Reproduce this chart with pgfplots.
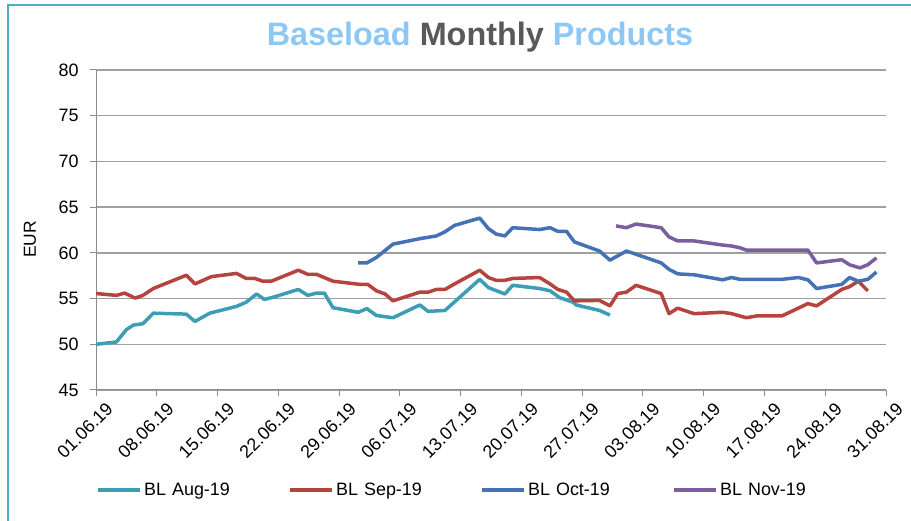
\documentclass[border=0pt]{standalone}
\usepackage{pgfplots}
\pgfplotsset{compat=1.18}
\usepackage{fontspec}
\setmainfont{Liberation Sans}
\definecolor{cAug}{HTML}{3C9DB5}
\definecolor{cSep}{HTML}{B5433E}
\definecolor{cOct}{HTML}{4472B4}
\definecolor{cNov}{HTML}{7B5EA0}
\definecolor{tblue}{HTML}{8DC8F5}
\definecolor{tgrey}{HTML}{595959}
\definecolor{frame}{HTML}{4BACC6}
\definecolor{axgray}{HTML}{8C8C8C}
\definecolor{gridgray}{HTML}{A0A0A0}
\begin{document}
\begin{tikzpicture}[x=1bp,y=1bp]
\path[use as bounding box] (0,0) rectangle (911,521);
\draw[color=frame, line width=1.5bp] (8,0) -- (8,516) -- (911,516);
\node[font=\fontsize{32.5}{36}\selectfont\bfseries] at (480,484) {\textcolor{tblue}{Baseload} \textcolor{tgrey}{Monthly} \textcolor{tblue}{Products}};
\begin{axis}[
  at={(96bp,131bp)}, anchor=south west,
  width=790bp, height=320bp, scale only axis,
  xmin=0, xmax=91, ymin=45, ymax=80,
  axis x line*=bottom, axis y line*=left,
  axis line style={color=axgray, line width=1bp},
  xtick={0,7,...,91},
  xticklabels={01.06.19,08.06.19,15.06.19,22.06.19,29.06.19,06.07.19,13.07.19,20.07.19,27.07.19,03.08.19,10.08.19,17.08.19,24.08.19,31.08.19},
  ytick={45,50,...,80},
  tick style={color=axgray, line width=1bp},
  tick align=outside, major tick length=6bp,
  ymajorgrids, grid style={color=gridgray, line width=1.5bp},
  ticklabel style={font=\fontsize{18}{21}\selectfont},
  xticklabel style={rotate=45, anchor=north east, inner sep=2bp, xshift=5bp, yshift=-8bp},
  yticklabel style={xshift=-8bp},
  /pgf/number format/assume math mode=true,
  ylabel={EUR},
  ylabel style={font=\fontsize{17.5}{20}\selectfont, at={(axis description cs:-0.0835,0.47)}, anchor=center},
  legend columns=4,
  legend style={draw=none, fill=none, at={(axis description cs:0,-0.3125)}, anchor=west, inner sep=0pt,
    font=\fontsize{18}{21}\selectfont,
    /tikz/every even column/.append style={text width=142bp, column sep=0bp}},
  legend image code/.code={\draw[#1, line width=4bp] (0bp,0bp) -- (42bp,0bp);},
  every axis plot/.append style={line width=3.5bp, line join=round, mark=none},
]
\addplot[color=cAug] coordinates {
(0,50.0) (2.35,50.25) (3.5,51.6) (4.3,52.1) (5.4,52.25) (6.6,53.4) (10.4,53.3) (11.4,52.5)
(13.1,53.4) (16.2,54.15) (17.3,54.6) (18.5,55.5) (19.4,54.9) (20.6,55.2) (23.3,56.0) (24.4,55.35)
(25.4,55.6) (26.3,55.6) (27.3,54.0) (30.2,53.5) (31.2,53.9) (32.3,53.15) (34.2,52.9) (37.3,54.3)
(38.25,53.6) (40.2,53.7) (44.2,57.1) (45.2,56.2) (47.1,55.5) (48.0,56.45) (51.1,56.1) (52.3,55.85)
(53.4,55.1) (54.95,54.6) (55.3,54.3) (58.0,53.7) (59.2,53.2)
};
\addlegendentry{BL Aug-19}
\addplot[color=cSep] coordinates {
(0,55.55) (2.35,55.35) (3.3,55.6) (4.5,55.05) (5.4,55.35) (6.6,56.1) (10.4,57.55) (11.4,56.6)
(13.3,57.4) (16.2,57.75) (17.3,57.2) (18.3,57.2) (19.2,56.9) (20.2,56.9) (23.3,58.1) (24.4,57.65)
(25.4,57.65) (27.3,56.9) (30.4,56.55) (31.3,56.55) (32.3,55.85) (33.3,55.5) (34.2,54.75) (37.3,55.7)
(38.25,55.7) (39.2,56.0) (40.2,56.0) (41.3,56.6) (44.2,58.1) (45.2,57.3) (46.1,57.0) (47.1,57.0)
(48.0,57.2) (51.1,57.3) (52.3,56.6) (53.2,56.0) (54.2,55.7) (55.1,54.75) (58.0,54.8) (59.2,54.2)
(60.1,55.55) (61.1,55.7) (62.2,56.45) (65.1,55.55) (66.0,53.35) (67.0,53.95) (68.9,53.35) (72.2,53.5)
(73.2,53.35) (74.9,52.9) (76.1,53.1) (79.0,53.1) (79.9,53.5) (82.0,54.45) (83.0,54.2) (85.9,56.0)
(86.8,56.3) (87.8,56.9) (88.9,55.85)
};
\addlegendentry{BL Sep-19}
\addplot[color=cOct] coordinates {
(30.2,58.9) (31.2,58.9) (32.3,59.5) (34.2,60.95) (37.3,61.55) (39.2,61.85) (40.2,62.3) (41.3,63.0)
(44.2,63.8) (45.2,62.65) (46.1,62.05) (47.1,61.85) (48.0,62.75) (51.1,62.55) (52.3,62.75) (53.2,62.35)
(54.2,62.35) (55.1,61.2) (58.0,60.2) (59.2,59.2) (61.1,60.2) (62.2,59.85) (65.1,58.9) (66.0,58.2)
(67.0,57.7) (68.9,57.6) (72.2,57.05) (73.2,57.3) (74.2,57.1) (79.0,57.1) (80.9,57.3) (82.0,57.05)
(83.0,56.1) (85.9,56.55) (86.8,57.3) (87.8,56.9) (88.9,57.1) (89.9,57.9)
};
\addlegendentry{BL Oct-19}
\addplot[color=cNov] coordinates {
(59.9,62.95) (61.1,62.75) (62.2,63.15) (65.1,62.75) (66.0,61.75) (67.0,61.3) (68.9,61.3) (72.2,60.85)
(73.2,60.75) (74.2,60.55) (74.9,60.3) (82.0,60.3) (83.0,58.9) (85.9,59.25) (86.8,58.7) (88.0,58.35)
(88.9,58.7) (89.9,59.45)
};
\addlegendentry{BL Nov-19}
\end{axis}
\end{tikzpicture}
\end{document}
